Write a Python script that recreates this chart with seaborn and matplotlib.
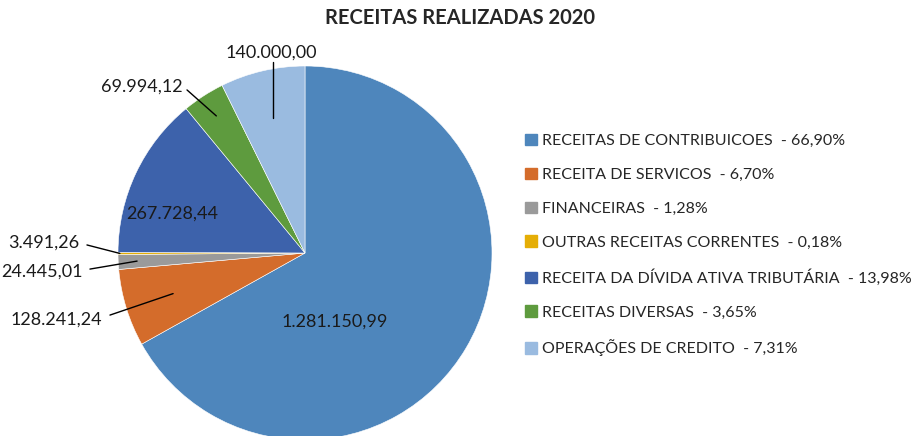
import numpy as np
import matplotlib
matplotlib.use("Agg")
import matplotlib.pyplot as plt
import matplotlib.patches as mpatches
import seaborn as sns

# dados
categorias = ["RECEITAS DE CONTRIBUICOES", "RECEITA DE SERVICOS", "FINANCEIRAS",
              "OUTRAS RECEITAS CORRENTES", "RECEITA DA DÍVIDA ATIVA TRIBUTÁRIA",
              "RECEITAS DIVERSAS", "OPERAÇÕES DE CREDITO"]
valores = [1281150.99, 128241.24, 24445.01, 3491.26, 267728.44, 69994.12, 140000.00]
cores = ["#4E86BC", "#D46C2B", "#9A9A9A", "#E5AE06", "#3D62AB", "#5E9B3E", "#9ABBE0"]

# posicao dos rotulos (coordenadas do pie) e raio da ponta da linha (None = sem linha)
pos_rotulo = [(0.16, -0.369), (-1.086, -0.355), (-1.187, -0.102), (-1.209, 0.053),
              (-0.711, 0.209), (-0.652, 0.888), (-0.182, 1.07)]
alinhamento = ["center", "right", "right", "right", "center", "right", "center"]
raio_linha = [None, 0.738, 0.899, 0.99, None, 0.873, 0.74]
inicio_linha = [None, (-1.043, -0.332), (-1.15, -0.086), (-1.166, 0.043), None,
                (-0.631, 0.872), (None, 1.021)]


def fmt_br(v):
    return f"{v:,.2f}".replace(",", "X").replace(".", ",").replace("X", ".")


sns.set_theme(style="white")
plt.rcParams['font.family'] = ['Lato', 'DejaVu Sans']
paleta = sns.color_palette(cores)

fig = plt.figure(figsize=(9.2, 4.36), dpi=100)
# eixo quadrado em pixels: centro (305, 253), raio 187
cx, cy, r = 305, 253, 187
ax = fig.add_axes([(cx - r) / 920, (436 - cy - r) / 436, 2 * r / 920, 2 * r / 436])
wedges, _ = ax.pie(valores, colors=paleta, startangle=90, counterclock=False,
                   wedgeprops=dict(edgecolor="white", linewidth=0.4))
ax.set_xlim(-1, 1)
ax.set_ylim(-1, 1)
ax.set_aspect("auto")
ax.axis("off")

for i, w in enumerate(wedges):
    ax.text(pos_rotulo[i][0], pos_rotulo[i][1], fmt_br(valores[i]), ha=alinhamento[i],
            va="center", fontsize=13, color="#1a1a1a", clip_on=False)
    if raio_linha[i] is not None:
        ang = np.deg2rad((w.theta1 + w.theta2) / 2)
        ponta = (raio_linha[i] * np.cos(ang), raio_linha[i] * np.sin(ang))
        x0, y0 = inicio_linha[i]
        if x0 is None:  # linha vertical
            x0 = ponta[0]
        ax.plot([x0, ponta[0]], [y0, ponta[1]], color="black", lw=1, clip_on=False)

total = sum(valores)
rotulos = [f"{c}  - {v / total * 100:.2f}%".replace(".", ",") for c, v in zip(categorias, valores)]
handles = [mpatches.Patch(color=paleta[i]) for i in range(len(valores))]
fig.legend(handles, rotulos, loc="center left", bbox_to_anchor=(525 / 920, (436 - 245) / 436),
           frameon=False, fontsize=11.5, handlelength=0.75, handleheight=0.75,
           handletextpad=0.3, labelspacing=1.22, borderpad=0, borderaxespad=0)

fig.suptitle("RECEITAS REALIZADAS 2020", x=460 / 920, y=1 - 18 / 436, va="center",
             fontsize=14.5, fontweight="bold")

fig.savefig("out.png", dpi=100)
